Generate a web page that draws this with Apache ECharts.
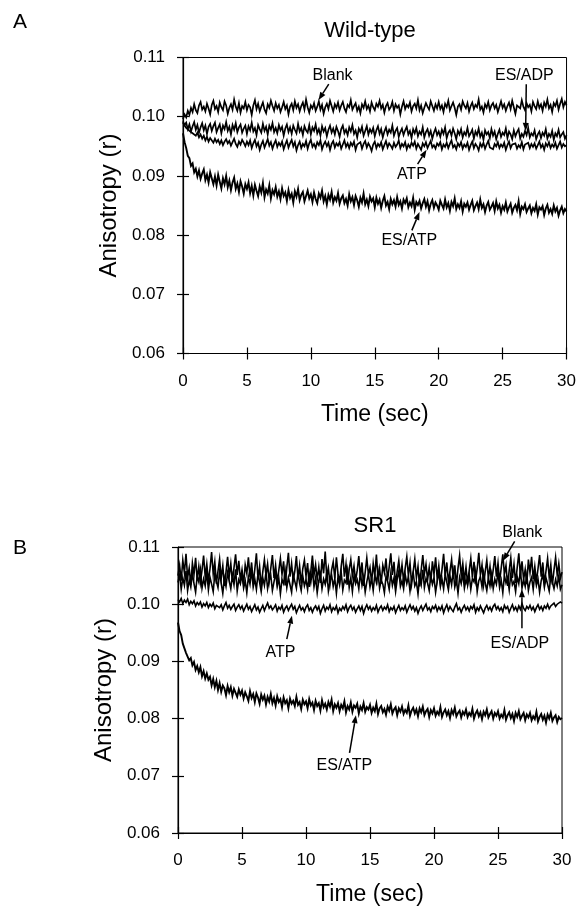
<!DOCTYPE html>
<html><head><meta charset="utf-8">
<script src="https://cdn.jsdelivr.net/npm/echarts@6/dist/echarts.min.js"></script>
<style>html,body{margin:0;padding:0;background:#fff}#c{width:579px;height:907px}</style>
</head><body><div id="c"></div>
<script>
// ---- sample times (sec) ----
const time = [
0,0.125,0.25,0.375,0.5,0.625,0.75,0.875,1,1.125,1.25,1.375,1.5,1.625,1.75,1.875,2,2.125,2.25,2.375,
2.5,2.625,2.75,2.875,3,3.125,3.25,3.375,3.5,3.625,3.75,3.875,4,4.125,4.25,4.375,4.5,4.625,4.75,4.875,
5,5.125,5.25,5.375,5.5,5.625,5.75,5.875,6,6.125,6.25,6.375,6.5,6.625,6.75,6.875,7,7.125,7.25,7.375,
7.5,7.625,7.75,7.875,8,8.125,8.25,8.375,8.5,8.625,8.75,8.875,9,9.125,9.25,9.375,9.5,9.625,9.75,9.875,
10,10.125,10.25,10.375,10.5,10.625,10.75,10.875,11,11.125,11.25,11.375,11.5,11.625,11.75,11.875,12,12.125,12.25,12.375,
12.5,12.625,12.75,12.875,13,13.125,13.25,13.375,13.5,13.625,13.75,13.875,14,14.125,14.25,14.375,14.5,14.625,14.75,14.875,
15,15.125,15.25,15.375,15.5,15.625,15.75,15.875,16,16.125,16.25,16.375,16.5,16.625,16.75,16.875,17,17.125,17.25,17.375,
17.5,17.625,17.75,17.875,18,18.125,18.25,18.375,18.5,18.625,18.75,18.875,19,19.125,19.25,19.375,19.5,19.625,19.75,19.875,
20,20.125,20.25,20.375,20.5,20.625,20.75,20.875,21,21.125,21.25,21.375,21.5,21.625,21.75,21.875,22,22.125,22.25,22.375,
22.5,22.625,22.75,22.875,23,23.125,23.25,23.375,23.5,23.625,23.75,23.875,24,24.125,24.25,24.375,24.5,24.625,24.75,24.875,
25,25.125,25.25,25.375,25.5,25.625,25.75,25.875,26,26.125,26.25,26.375,26.5,26.625,26.75,26.875,27,27.125,27.25,27.375,
27.5,27.625,27.75,27.875,28,28.125,28.25,28.375,28.5,28.625,28.75,28.875,29,29.125,29.25,29.375,29.5,29.625,29.75,29.875,
30];

// ---- Panel A: Wild-type ----
const aBlank = [
0.0996,0.1004,0.0999,0.1010,0.1003,0.1015,0.1008,0.1021,0.1011,0.1006,0.1019,0.1025,0.1012,0.1017,0.1009,0.1022,0.1014,0.1004,0.1020,0.1027,
0.1013,0.1018,0.1008,0.1024,0.1016,0.1011,0.1026,0.1019,0.1005,0.1015,0.1021,0.1012,0.1029,0.1017,0.1010,0.1023,0.1007,0.1018,0.1014,0.1025,
0.1011,0.1020,0.1016,0.1003,0.1019,0.1028,0.1013,0.1022,0.1009,0.1017,0.1024,0.1012,0.1006,0.1021,0.1015,0.1027,0.1018,0.1010,0.1023,0.1014,
0.1020,0.1008,0.1016,0.1025,0.1013,0.1019,0.1004,0.1017,0.1022,0.1011,0.1026,0.1015,0.1021,0.1009,0.1018,0.1024,0.1012,0.1029,0.1016,0.1007,
0.1019,0.1014,0.1023,0.1010,0.1017,0.1026,0.1012,0.1020,0.1005,0.1016,0.1022,0.1013,0.1027,0.1018,0.1009,0.1021,0.1015,0.1024,0.1011,0.1019,
0.1025,0.1014,0.1008,0.1020,0.1016,0.1028,0.1012,0.1018,0.1023,0.1010,0.1017,0.1006,0.1021,0.1015,0.1026,0.1013,0.1019,0.1009,0.1024,0.1016,
0.1011,0.1022,0.1017,0.1027,0.1014,0.1020,0.1007,0.1018,0.1023,0.1012,0.1016,0.1025,0.1010,0.1021,0.1015,0.1019,0.1004,0.1017,0.1026,0.1013,
0.1020,0.1016,0.1024,0.1009,0.1018,0.1022,0.1014,0.1028,0.1011,0.1019,0.1006,0.1015,0.1023,0.1017,0.1012,0.1026,0.1018,0.1010,0.1021,0.1014,
0.1025,0.1013,0.1019,0.1008,0.1022,0.1016,0.1027,0.1011,0.1018,0.1024,0.1015,0.1003,0.1017,0.1021,0.1012,0.1026,0.1019,0.1014,0.1023,0.1009,
0.1018,0.1024,0.1013,0.1020,0.1016,0.1029,0.1012,0.1017,0.1007,0.1021,0.1015,0.1025,0.1011,0.1019,0.1023,0.1014,0.1020,0.1008,0.1017,0.1026,
0.1015,0.1021,0.1010,0.1018,0.1024,0.1013,0.1027,0.1016,0.1005,0.1019,0.1022,0.1014,0.1028,0.1017,0.1011,0.1023,0.1016,0.1020,0.1009,0.1025,
0.1018,0.1013,0.1026,0.1015,0.1021,0.1010,0.1024,0.1017,0.1029,0.1014,0.1020,0.1008,0.1023,0.1018,0.1027,0.1012,0.1022,0.1030,0.1016,0.1025,
0.1019];
const aEsAdp = [
0.0992,0.0986,0.0990,0.0979,0.0987,0.0975,0.0984,0.0991,0.0978,0.0986,0.0973,0.0982,0.0989,0.0977,0.0985,0.0971,0.0983,0.0988,0.0976,0.0984,
0.0990,0.0974,0.0981,0.0987,0.0972,0.0985,0.0979,0.0991,0.0976,0.0983,0.0970,0.0986,0.0978,0.0989,0.0974,0.0982,0.0987,0.0973,0.0980,0.0985,
0.0971,0.0984,0.0977,0.0990,0.0975,0.0981,0.0969,0.0986,0.0979,0.0973,0.0988,0.0976,0.0983,0.0970,0.0985,0.0978,0.0989,0.0974,0.0981,0.0972,
0.0986,0.0977,0.0983,0.0968,0.0980,0.0987,0.0974,0.0982,0.0971,0.0985,0.0978,0.0972,0.0988,0.0975,0.0981,0.0969,0.0984,0.0977,0.0973,0.0986,
0.0970,0.0982,0.0976,0.0987,0.0972,0.0979,0.0968,0.0984,0.0975,0.0981,0.0967,0.0978,0.0985,0.0973,0.0980,0.0970,0.0983,0.0976,0.0966,0.0979,
0.0985,0.0972,0.0978,0.0969,0.0982,0.0975,0.0986,0.0971,0.0977,0.0965,0.0980,0.0974,0.0983,0.0968,0.0976,0.0984,0.0970,0.0979,0.0973,0.0981,
0.0967,0.0977,0.0984,0.0971,0.0979,0.0965,0.0975,0.0982,0.0970,0.0978,0.0973,0.0985,0.0968,0.0976,0.0981,0.0966,0.0974,0.0980,0.0969,0.0977,
0.0983,0.0970,0.0976,0.0964,0.0979,0.0972,0.0981,0.0967,0.0975,0.0970,0.0982,0.0965,0.0974,0.0979,0.0968,0.0976,0.0963,0.0973,0.0980,0.0969,
0.0975,0.0966,0.0978,0.0971,0.0982,0.0964,0.0973,0.0977,0.0968,0.0980,0.0972,0.0962,0.0976,0.0970,0.0979,0.0965,0.0974,0.0969,0.0981,0.0967,
0.0972,0.0978,0.0963,0.0975,0.0969,0.0980,0.0966,0.0973,0.0961,0.0977,0.0970,0.0974,0.0964,0.0979,0.0968,0.0975,0.0962,0.0971,0.0978,0.0966,
0.0973,0.0969,0.0980,0.0964,0.0975,0.0970,0.0962,0.0977,0.0967,0.0974,0.0979,0.0963,0.0971,0.0966,0.0976,0.0969,0.0981,0.0965,0.0972,0.0968,
0.0977,0.0962,0.0970,0.0975,0.0964,0.0973,0.0968,0.0979,0.0963,0.0971,0.0966,0.0976,0.0961,0.0972,0.0967,0.0978,0.0965,0.0970,0.0974,0.0963,
0.0969];
const aAtp = [
0.0990,0.0985,0.0981,0.0984,0.0976,0.0979,0.0972,0.0975,0.0968,0.0973,0.0965,0.0970,0.0963,0.0968,0.0960,0.0966,0.0958,0.0964,0.0961,0.0956,
0.0963,0.0957,0.0961,0.0954,0.0960,0.0952,0.0958,0.0962,0.0955,0.0959,0.0951,0.0957,0.0963,0.0954,0.0949,0.0958,0.0953,0.0961,0.0956,0.0950,
0.0958,0.0952,0.0960,0.0947,0.0955,0.0961,0.0950,0.0956,0.0944,0.0953,0.0959,0.0948,0.0955,0.0962,0.0951,0.0957,0.0946,0.0954,0.0960,0.0949,
0.0956,0.0951,0.0958,0.0945,0.0953,0.0960,0.0948,0.0955,0.0961,0.0950,0.0957,0.0943,0.0952,0.0958,0.0947,0.0954,0.0950,0.0959,0.0946,0.0955,
0.0961,0.0949,0.0954,0.0947,0.0957,0.0952,0.0960,0.0945,0.0953,0.0958,0.0950,0.0956,0.0944,0.0954,0.0959,0.0948,0.0955,0.0951,0.0957,0.0946,
0.0953,0.0960,0.0949,0.0955,0.0947,0.0956,0.0951,0.0958,0.0944,0.0953,0.0950,0.0957,0.0946,0.0954,0.0959,0.0948,0.0955,0.0950,0.0942,0.0953,
0.0958,0.0947,0.0954,0.0950,0.0957,0.0945,0.0952,0.0959,0.0948,0.0955,0.0951,0.0946,0.0956,0.0949,0.0953,0.0960,0.0947,0.0954,0.0950,0.0957,
0.0945,0.0953,0.0948,0.0956,0.0951,0.0958,0.0946,0.0954,0.0949,0.0944,0.0955,0.0950,0.0957,0.0947,0.0953,0.0959,0.0948,0.0952,0.0946,0.0955,
0.0951,0.0957,0.0945,0.0953,0.0949,0.0956,0.0947,0.0954,0.0960,0.0948,0.0952,0.0945,0.0955,0.0950,0.0957,0.0946,0.0953,0.0949,0.0956,0.0944,
0.0952,0.0958,0.0947,0.0954,0.0950,0.0943,0.0955,0.0949,0.0956,0.0946,0.0953,0.0959,0.0948,0.0951,0.0945,0.0954,0.0950,0.0957,0.0947,0.0953,
0.0949,0.0956,0.0944,0.0952,0.0958,0.0947,0.0953,0.0950,0.0955,0.0946,0.0952,0.0948,0.0957,0.0945,0.0953,0.0950,0.0956,0.0947,0.0954,0.0949,
0.0955,0.0946,0.0952,0.0958,0.0948,0.0953,0.0944,0.0955,0.0950,0.0957,0.0947,0.0953,0.0949,0.0956,0.0946,0.0952,0.0958,0.0948,0.0954,0.0950,
0.0952];
const aEsAtp = [
0.0972,0.0957,0.0947,0.0934,0.0930,0.0917,0.0921,0.0906,0.0912,0.0899,0.0909,0.0895,0.0904,0.0911,0.0893,0.0902,0.0889,0.0906,0.0896,0.0886,
0.0899,0.0884,0.0902,0.0890,0.0879,0.0896,0.0886,0.0900,0.0881,0.0892,0.0876,0.0889,0.0897,0.0878,0.0887,0.0873,0.0891,0.0882,0.0870,0.0886,
0.0878,0.0889,0.0871,0.0883,0.0867,0.0885,0.0875,0.0866,0.0882,0.0872,0.0888,0.0864,0.0877,0.0870,0.0884,0.0862,0.0876,0.0869,0.0881,0.0865,
0.0874,0.0861,0.0879,0.0866,0.0872,0.0858,0.0876,0.0863,0.0870,0.0855,0.0874,0.0865,0.0878,0.0859,0.0868,0.0873,0.0857,0.0866,0.0875,0.0862,
0.0869,0.0856,0.0872,0.0861,0.0854,0.0870,0.0863,0.0875,0.0857,0.0866,0.0852,0.0868,0.0860,0.0873,0.0855,0.0864,0.0858,0.0871,0.0853,0.0862,
0.0867,0.0854,0.0861,0.0850,0.0869,0.0857,0.0864,0.0851,0.0866,0.0859,0.0848,0.0863,0.0855,0.0870,0.0852,0.0860,0.0849,0.0865,0.0857,0.0862,
0.0847,0.0863,0.0853,0.0860,0.0846,0.0858,0.0866,0.0850,0.0856,0.0844,0.0861,0.0852,0.0859,0.0848,0.0864,0.0851,0.0857,0.0845,0.0860,0.0854,
0.0862,0.0847,0.0855,0.0849,0.0863,0.0843,0.0856,0.0851,0.0858,0.0845,0.0854,0.0861,0.0848,0.0857,0.0842,0.0853,0.0859,0.0846,0.0855,0.0850,
0.0843,0.0858,0.0851,0.0845,0.0860,0.0847,0.0854,0.0841,0.0856,0.0849,0.0862,0.0844,0.0852,0.0846,0.0857,0.0840,0.0853,0.0848,0.0855,0.0843,
0.0851,0.0858,0.0842,0.0849,0.0855,0.0844,0.0860,0.0846,0.0852,0.0839,0.0850,0.0856,0.0843,0.0848,0.0854,0.0841,0.0857,0.0845,0.0851,0.0838,
0.0849,0.0843,0.0855,0.0840,0.0847,0.0853,0.0838,0.0846,0.0851,0.0842,0.0857,0.0836,0.0848,0.0844,0.0852,0.0839,0.0845,0.0850,0.0837,0.0846,
0.0841,0.0852,0.0835,0.0847,0.0843,0.0849,0.0834,0.0845,0.0851,0.0838,0.0844,0.0836,0.0850,0.0840,0.0846,0.0833,0.0842,0.0848,0.0837,0.0844,
0.0840];

// ---- Panel B: SR1 ----
const bBlank = [
0.1050,0.1068,0.1041,0.1077,0.1055,0.1088,0.1046,0.1063,0.1034,0.1072,0.1052,0.1081,0.1043,0.1066,0.1038,0.1059,0.1085,0.1048,0.1070,0.1040,
0.1062,0.1091,0.1053,0.1074,0.1036,0.1058,0.1079,0.1045,0.1067,0.1032,0.1056,0.1083,0.1049,0.1071,0.1039,0.1064,0.1087,0.1051,0.1076,0.1042,
0.1060,0.1035,0.1069,0.1054,0.1082,0.1047,0.1073,0.1037,0.1061,0.1089,0.1044,0.1066,0.1031,0.1057,0.1078,0.1050,0.1070,0.1040,0.1063,0.1086,
0.1046,0.1068,0.1038,0.1059,0.1080,0.1052,0.1075,0.1033,0.1064,0.1090,0.1048,0.1071,0.1041,0.1058,0.1084,0.1044,0.1067,0.1036,0.1062,0.1077,
0.1049,0.1072,0.1030,0.1057,0.1085,0.1051,0.1069,0.1043,0.1065,0.1037,0.1079,0.1054,0.1092,0.1047,0.1063,0.1035,0.1060,0.1074,0.1045,0.1082,
0.1053,0.1039,0.1066,0.1088,0.1048,0.1070,0.1034,0.1061,0.1078,0.1050,0.1067,0.1041,0.1059,0.1084,0.1046,0.1073,0.1032,0.1056,0.1081,0.1052,
0.1064,0.1038,0.1071,0.1049,0.1087,0.1044,0.1062,0.1036,0.1068,0.1055,0.1080,0.1042,0.1065,0.1089,0.1051,0.1074,0.1033,0.1058,0.1076,0.1047,
0.1069,0.1040,0.1063,0.1083,0.1050,0.1072,0.1035,0.1057,0.1079,0.1046,0.1066,0.1031,0.1060,0.1086,0.1053,0.1070,0.1043,0.1064,0.1038,0.1075,
0.1052,0.1082,0.1045,0.1067,0.1037,0.1061,0.1088,0.1049,0.1073,0.1039,0.1058,0.1078,0.1044,0.1068,0.1033,0.1063,0.1085,0.1050,0.1071,0.1041,
0.1065,0.1036,0.1059,0.1080,0.1047,0.1074,0.1042,0.1062,0.1090,0.1051,0.1069,0.1034,0.1057,0.1077,0.1045,0.1066,0.1038,0.1060,0.1084,0.1048,
0.1072,0.1040,0.1063,0.1087,0.1053,0.1068,0.1032,0.1059,0.1081,0.1046,0.1070,0.1037,0.1064,0.1089,0.1050,0.1075,0.1043,0.1061,0.1035,0.1078,
0.1055,0.1083,0.1044,0.1066,0.1039,0.1062,0.1086,0.1048,0.1073,0.1036,0.1058,0.1080,0.1047,0.1069,0.1034,0.1060,0.1082,0.1051,0.1071,0.1045,
0.1056];
const bEsAdp = [
0.1038,0.1051,0.1026,0.1046,0.1033,0.1058,0.1024,0.1042,0.1030,0.1054,0.1036,0.1021,0.1049,0.1039,0.1060,0.1028,0.1044,0.1032,0.1056,0.1025,
0.1047,0.1035,0.1022,0.1053,0.1040,0.1029,0.1057,0.1037,0.1019,0.1045,0.1031,0.1055,0.1041,0.1027,0.1050,0.1034,0.1061,0.1023,0.1043,0.1036,
0.1052,0.1028,0.1041,0.1020,0.1048,0.1035,0.1059,0.1030,0.1044,0.1026,0.1054,0.1038,0.1022,0.1046,0.1033,0.1057,0.1027,0.1042,0.1050,0.1024,
0.1039,0.1055,0.1031,0.1045,0.1018,0.1043,0.1036,0.1058,0.1029,0.1047,0.1034,0.1021,0.1052,0.1040,0.1028,0.1056,0.1037,0.1024,0.1049,0.1032,
0.1043,0.1026,0.1054,0.1038,0.1060,0.1030,0.1046,0.1020,0.1041,0.1053,0.1027,0.1044,0.1035,0.1057,0.1023,0.1040,0.1051,0.1031,0.1045,0.1019,
0.1048,0.1034,0.1056,0.1025,0.1042,0.1037,0.1059,0.1029,0.1046,0.1022,0.1050,0.1036,0.1043,0.1027,0.1055,0.1033,0.1047,0.1021,0.1039,0.1053,
0.1030,0.1045,0.1024,0.1051,0.1038,0.1057,0.1028,0.1042,0.1035,0.1020,0.1049,0.1040,0.1026,0.1054,0.1033,0.1046,0.1022,0.1044,0.1058,0.1031,
0.1041,0.1027,0.1052,0.1036,0.1048,0.1023,0.1043,0.1055,0.1032,0.1039,0.1018,0.1047,0.1034,0.1060,0.1029,0.1045,0.1037,0.1024,0.1050,0.1035,
0.1046,0.1021,0.1040,0.1056,0.1031,0.1044,0.1027,0.1053,0.1038,0.1025,0.1049,0.1034,0.1058,0.1030,0.1042,0.1019,0.1047,0.1036,0.1054,0.1028,
0.1043,0.1033,0.1051,0.1026,0.1045,0.1039,0.1057,0.1022,0.1041,0.1048,0.1030,0.1055,0.1037,0.1024,0.1046,0.1032,0.1052,0.1027,0.1044,0.1035,
0.1056,0.1029,0.1042,0.1020,0.1050,0.1037,0.1045,0.1025,0.1053,0.1034,0.1040,0.1022,0.1048,0.1036,0.1059,0.1028,0.1043,0.1031,0.1051,0.1024,
0.1039,0.1047,0.1026,0.1054,0.1033,0.1044,0.1021,0.1041,0.1052,0.1030,0.1046,0.1035,0.1023,0.1049,0.1038,0.1027,0.1043,0.1032,0.1050,0.1026,
0.1034];
const bAtp = [
0.1008,0.1004,0.1010,0.1001,0.1007,0.1003,0.1009,0.0999,0.1005,0.1001,0.1006,0.0997,0.1003,0.0999,0.1004,0.0995,0.1001,0.0997,0.1003,0.0994,
0.1000,0.0996,0.1002,0.0992,0.0998,0.1001,0.0994,0.0999,0.0990,0.0997,0.1003,0.0993,0.0998,0.0991,0.0996,0.1000,0.0989,0.0995,0.0999,0.0992,
0.0997,0.0988,0.0994,0.1000,0.0991,0.0996,0.0987,0.0993,0.0999,0.0990,0.0995,0.0986,0.0992,0.0998,0.0989,0.0996,0.1002,0.0993,0.0997,0.0990,
0.0994,0.0999,0.0988,0.0995,0.0991,0.0998,0.0986,0.0993,0.0997,0.0989,0.0995,0.1000,0.0991,0.0996,0.0985,0.0992,0.0998,0.0990,0.0994,0.0987,
0.0995,0.0999,0.0989,0.0994,0.0986,0.0993,0.0997,0.0990,0.0996,0.0984,0.0992,0.0998,0.0988,0.0995,0.0991,0.0999,0.0987,0.0994,0.0990,0.0997,
0.0985,0.0993,0.0989,0.0996,0.0991,0.0999,0.0987,0.0994,0.0998,0.0990,0.0995,0.0986,0.0992,0.0997,0.0989,0.0996,0.0984,0.0993,0.0999,0.0991,
0.0996,0.0988,0.0994,0.0990,0.0998,0.0986,0.0993,0.0997,0.0989,0.0995,0.0991,0.0999,0.0987,0.0994,0.0990,0.0996,0.0985,0.0992,0.0998,0.0989,
0.0994,0.0990,0.0997,0.0986,0.0993,0.0999,0.0991,0.0996,0.0988,0.0994,0.0984,0.0992,0.0997,0.0989,0.0995,0.1000,0.0990,0.0994,0.0987,0.0996,
0.0992,0.0998,0.0988,0.0995,0.0990,0.0997,0.0985,0.0993,0.0999,0.0989,0.0996,0.0991,0.0987,0.0995,0.1001,0.0990,0.0994,0.0986,0.0993,0.0998,
0.0990,0.0995,0.0988,0.0996,0.0992,0.0999,0.0986,0.0994,0.0989,0.0997,0.0991,0.0985,0.0993,0.0998,0.0990,0.0995,0.0988,0.0996,0.1000,0.0991,
0.0996,0.0989,0.0994,0.0987,0.0998,0.0992,0.0996,0.0986,0.0993,0.0999,0.0990,0.0995,0.0988,0.0997,0.0991,0.1001,0.0993,0.0989,0.0996,0.0992,
0.0998,0.0990,0.0995,0.0987,0.0994,0.0999,0.0991,0.0996,0.0989,0.0997,0.0993,0.1000,0.0992,0.0997,0.0994,0.1002,0.0996,0.1000,0.0997,0.1004,
0.1002];
const bEsAtp = [
0.0968,0.0953,0.0946,0.0931,0.0929,0.0915,0.0918,0.0902,0.0906,0.0893,0.0899,0.0885,0.0892,0.0881,0.0890,0.0874,0.0883,0.0870,0.0879,0.0868,
0.0873,0.0858,0.0869,0.0855,0.0866,0.0850,0.0862,0.0847,0.0858,0.0853,0.0841,0.0857,0.0846,0.0855,0.0840,0.0852,0.0845,0.0838,0.0851,0.0842,
0.0849,0.0835,0.0846,0.0839,0.0831,0.0848,0.0836,0.0843,0.0829,0.0844,0.0837,0.0826,0.0842,0.0833,0.0840,0.0825,0.0838,0.0830,0.0843,0.0827,
0.0836,0.0823,0.0839,0.0829,0.0834,0.0820,0.0837,0.0827,0.0832,0.0818,0.0835,0.0826,0.0831,0.0822,0.0838,0.0824,0.0829,0.0817,0.0833,0.0825,
0.0830,0.0818,0.0834,0.0823,0.0828,0.0815,0.0831,0.0822,0.0827,0.0814,0.0832,0.0820,0.0826,0.0816,0.0829,0.0821,0.0833,0.0813,0.0825,0.0819,
0.0827,0.0813,0.0824,0.0818,0.0830,0.0811,0.0822,0.0816,0.0828,0.0812,0.0823,0.0819,0.0826,0.0809,0.0821,0.0815,0.0827,0.0812,0.0820,0.0816,
0.0824,0.0810,0.0819,0.0813,0.0826,0.0808,0.0818,0.0822,0.0811,0.0817,0.0807,0.0821,0.0814,0.0825,0.0809,0.0816,0.0820,0.0806,0.0818,0.0812,
0.0821,0.0808,0.0815,0.0810,0.0823,0.0805,0.0814,0.0819,0.0809,0.0816,0.0804,0.0818,0.0811,0.0821,0.0806,0.0813,0.0817,0.0803,0.0815,0.0809,
0.0818,0.0805,0.0812,0.0807,0.0820,0.0803,0.0811,0.0816,0.0806,0.0813,0.0801,0.0815,0.0808,0.0819,0.0804,0.0810,0.0814,0.0802,0.0812,0.0807,
0.0816,0.0803,0.0810,0.0805,0.0817,0.0800,0.0809,0.0814,0.0804,0.0811,0.0799,0.0812,0.0806,0.0816,0.0802,0.0808,0.0813,0.0800,0.0810,0.0805,
0.0813,0.0800,0.0807,0.0802,0.0815,0.0798,0.0806,0.0811,0.0801,0.0808,0.0796,0.0810,0.0803,0.0813,0.0799,0.0805,0.0810,0.0797,0.0807,0.0802,
0.0810,0.0797,0.0804,0.0799,0.0812,0.0795,0.0803,0.0808,0.0798,0.0805,0.0793,0.0807,0.0800,0.0810,0.0796,0.0802,0.0806,0.0794,0.0803,0.0799,
0.0801];

// ---- axes ----
const xTickValues = [0,5,10,15,20,25,30];
const yTickValues = [0.06,0.07,0.08,0.09,0.10,0.11];
const panelTitles = ['Wild-type','SR1'];
const panelLetters = ['A','B'];

// ---- annotations (data coordinates) ----
const annA = [
  {text:'Blank',  label:[11.7,0.1070],  from:[11.4,0.1055], to:[10.6,0.1028]},
  {text:'ES/ADP', label:[26.7,0.1070],  from:[26.85,0.1055], to:[26.8,0.0976]},
  {text:'ATP',    label:[17.9,0.0902],  from:[18.35,0.0920], to:[19.05,0.0944]},
  {text:'ES/ATP', label:[17.7,0.0791],  from:[17.9,0.0808],  to:[18.5,0.0839]}
];
const annB = [
  {text:'Blank',  label:[26.9,0.1126],  from:[26.3,0.1110],  to:[25.4,0.1076]},
  {text:'ES/ADP', label:[26.7,0.0932],  from:[26.87,0.0958], to:[26.87,0.1026]},
  {text:'ATP',    label:[8.0,0.0915],   from:[8.5,0.0939],   to:[8.9,0.0980]},
  {text:'ES/ATP', label:[13.0,0.0718],  from:[13.4,0.0740],  to:[13.9,0.0806]}
];

const FONT = "'Liberation Sans', Arial, Helvetica, sans-serif";
const chart = echarts.init(document.getElementById('c'), null, {renderer:'canvas'});

const grids = [
  {left:183, top:57.5, width:384, height:296},
  {left:178, top:547, width:384, height:292}
].map(g => Object.assign({show:true, borderColor:'#000', borderWidth:1, backgroundColor:'transparent'}, g));

function xAxes(gi){
  return [
    {gridIndex:gi, type:'value', min:0, max:30, interval:5, position:'bottom',
     axisLine:{lineStyle:{color:'#000', width:1.2}},
     axisTick:{inside:false, length:6, lineStyle:{color:'#000', width:1.2}},
     axisLabel:{color:'#000', fontSize:17, fontFamily:FONT, margin:19,
       formatter: v => xTickValues.includes(v) ? String(v) : ''},
     splitLine:{show:false},
     name:'Time (sec)', nameLocation:'middle', nameGap:50,
     nameTextStyle:{color:'#000', fontSize:23, fontFamily:FONT}},
    {gridIndex:gi, type:'value', min:0, max:30, interval:5, position:'bottom',
     axisLine:{show:false}, axisLabel:{show:false}, splitLine:{show:false},
     axisTick:{inside:true, length:6, lineStyle:{color:'#000', width:1.2}}}
  ];
}
function yAxes(gi){
  return [
    {gridIndex:gi, type:'value', min:0.06, max:0.11, interval:0.01, position:'left',
     axisLine:{lineStyle:{color:'#000', width:1.2}},
     axisTick:{inside:false, length:6, lineStyle:{color:'#000', width:1.2}},
     axisLabel:{color:'#000', fontSize:17, fontFamily:FONT, margin:18,
       formatter: v => yTickValues.some(t => Math.abs(t - v) < 1e-9) ? v.toFixed(2) : ''},
     splitLine:{show:false},
     name:'Anisotropy (r)', nameLocation:'middle', nameGap:56, nameRotate:90,
     nameTextStyle:{color:'#000', fontSize:24, fontFamily:FONT}},
    {gridIndex:gi, type:'value', min:0.06, max:0.11, interval:0.01, position:'left',
     axisLine:{show:false}, axisLabel:{show:false}, splitLine:{show:false},
     axisTick:{inside:true, length:6, lineStyle:{color:'#000', width:1.2}}}
  ];
}

function trace(name, values, gi, w){
  return {
    name, type:'line', xAxisIndex:gi*2, yAxisIndex:gi*2,
    data: time.map((t,i) => [t, values[i]]),
    showSymbol:false, symbol:'none', smooth:false,
    lineStyle:{color:'#000', width:w, join:'miter'}, silent:true, animation:false, clip:true
  };
}

const series = [
  trace('A Blank', aBlank, 0, 1.7), trace('A ES/ADP', aEsAdp, 0, 1.7),
  trace('A ATP', aAtp, 0, 1.7), trace('A ES/ATP', aEsAtp, 0, 1.9),
  trace('B Blank', bBlank, 1, 1.6), trace('B ES/ADP', bEsAdp, 1, 1.6),
  trace('B ATP', bAtp, 1, 1.6), trace('B ES/ATP', bEsAtp, 1, 1.9)
];

const statics = [
  {type:'text', x:20, y:22, style:{text:panelLetters[0], fill:'#000', font:'21px '+FONT, align:'center', verticalAlign:'middle'}},
  {type:'text', x:370, y:31, style:{text:panelTitles[0], fill:'#000', font:'22px '+FONT, align:'center', verticalAlign:'middle'}},
  {type:'text', x:20, y:548, style:{text:panelLetters[1], fill:'#000', font:'21px '+FONT, align:'center', verticalAlign:'middle'}},
  {type:'text', x:375, y:526, style:{text:panelTitles[1], fill:'#000', font:'22px '+FONT, align:'center', verticalAlign:'middle'}}
];

chart.setOption({
  animation:false,
  backgroundColor:'#fff',
  grid: grids,
  xAxis: xAxes(0).concat(xAxes(1)),
  yAxis: yAxes(0).concat(yAxes(1)),
  series,
  graphic: statics
});

function annotations(){
  const els = [];
  [[annA,0],[annB,4]].forEach(([list, si]) => {
    list.forEach(a => {
      const tp = chart.convertToPixel({seriesIndex:si}, a.label);
      const p0 = chart.convertToPixel({seriesIndex:si}, a.from);
      const p1 = chart.convertToPixel({seriesIndex:si}, a.to);
      els.push({type:'text', x:tp[0], y:tp[1], z:10,
        style:{text:a.text, fill:'#000', font:'16px '+FONT, align:'center', verticalAlign:'middle'}});
      const dx = p1[0]-p0[0], dy = p1[1]-p0[1], L = Math.hypot(dx,dy);
      const ux = dx/L, uy = dy/L, hl = 8, hw = 3;
      const bx = p1[0]-ux*hl, by = p1[1]-uy*hl;
      els.push({type:'line', z:10, shape:{x1:p0[0], y1:p0[1], x2:bx, y2:by},
        style:{stroke:'#000', lineWidth:1.5}});
      els.push({type:'polygon', z:10, shape:{points:[[p1[0],p1[1]],[bx-uy*hw,by+ux*hw],[bx+uy*hw,by-ux*hw]]},
        style:{fill:'#000'}});
    });
  });
  chart.setOption({graphic: statics.concat(els)});
}
annotations();
</script>
</body></html>
